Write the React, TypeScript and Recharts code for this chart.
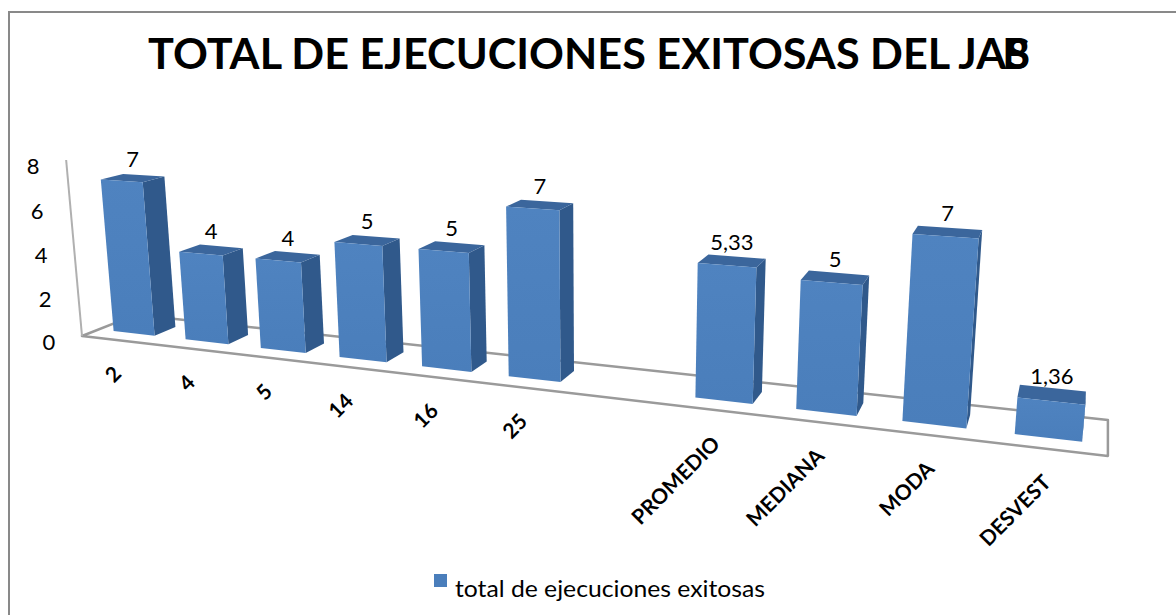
import React from 'react';
import { BarChart, Bar, XAxis, YAxis } from 'recharts';

const categories = ['2', '4', '5', '14', '16', '25', '', 'PROMEDIO', 'MEDIANA', 'MODA', 'DESVEST'];
const totals = [7, 4, 4, 5, 5, 7, null, 5.33, 5, 7, 1.36];
const yTicks = [0, 2, 4, 6, 8];
const seriesName = 'total de ejecuciones exitosas';
const titleText = 'TOTAL DE EJECUCIONES EXITOSAS DEL JAS';

const data = categories.map((name, i) => ({ name, total: totals[i] }));

const W = 1176;
const H = 615;
const M = { top: 50, right: 100, bottom: 50, left: 100 };
const AX = 1; // size given to the (invisible) axes
const PLOT_L = M.left + AX;
const PLOT_W = W - M.left - M.right - AX;
const PLOT_H = H - M.top - M.bottom - AX;
const Y_MAX = 8;

const FONT = "Lato, 'Open Sans', sans-serif";
const FRONT = '#4a7ebb';
const SIDE = '#30598b';
const TOP = '#3b669c';
const GRID = '#9a9a9a';

// perspective: front-left floor corner + vanishing points of the
// category axis, the value axis and the depth axis
const O = [82, 336];
const VX = [-3100, -36];
const VY = [599, 6075];
const VZ = [1108, -67];
const KX = -0.2438;
const KY = -0.00372;
const KZ = 0.0558;

const proj = (u: number, v: number, d: number) => {
  const w = 1 + KX * u + KY * v + KZ * d;
  return [
    (O[0] + KX * u * VX[0] + KY * v * VY[0] + KZ * d * VZ[0]) / w,
    (O[1] + KX * u * VX[1] + KY * v * VY[1] + KZ * d * VZ[1]) / w,
  ];
};

const pts = (arr: number[][]) => arr.map((p) => p[0].toFixed(1) + ',' + p[1].toFixed(1)).join(' ');
const fmt = (v: number) => String(v).replace('.', ',');

// bars sit in the middle of the floor depth
const D0 = 0.3;
const D1 = 0.7;

const Bar3D = (props: any) => {
  const { x, width, height, payload } = props;
  const value = payload ? payload.total : props.value;
  if (value == null || !height) return null;
  const uL = (x - PLOT_L) / PLOT_W;
  const uR = (x + width - PLOT_L) / PLOT_W;
  const v = (Y_MAX * height) / PLOT_H;
  const front = [proj(uL, 0, D0), proj(uR, 0, D0), proj(uR, v, D0), proj(uL, v, D0)];
  const top = [proj(uL, v, D0), proj(uR, v, D0), proj(uR, v, D1), proj(uL, v, D1)];
  const side = [proj(uR, 0, D0), proj(uR, 0, D1), proj(uR, v, D1), proj(uR, v, D0)];
  const lab = proj((uL + uR) / 2, v, 0.5);
  return (
    <g>
      <polygon points={pts(side)} fill={SIDE} />
      <polygon points={pts(top)} fill={TOP} />
      <polygon points={pts(front)} fill="url(#frontGrad)" />
      <text x={lab[0]} y={lab[1] - 11} textAnchor="middle" fontFamily={FONT} fontSize={22} fill="#000">
        {fmt(value)}
      </text>
    </g>
  );
};

const renderXTick = (props: any) => {
  const { x, payload } = props;
  if (!payload || !payload.value) return <g />;
  const u = (x - PLOT_L) / PLOT_W;
  const p = proj(u, 0, 0);
  const tx = p[0] + 5;
  const ty = p[1] + 35;
  return (
    <text x={tx} y={ty} transform={`rotate(-45 ${tx} ${ty})`} textAnchor="end" fontFamily={FONT} fontSize={21} fontWeight={700} fill="#000">
      {payload.value}
    </text>
  );
};

const renderYTick = (props: any) => {
  const { y, payload } = props;
  const v = (Y_MAX * (M.top + PLOT_H - y)) / PLOT_H;
  const p = proj(0, v, 0);
  return (
    <text x={p[0] - 33} y={p[1] + 14} textAnchor="middle" fontFamily={FONT} fontSize={22} fill="#000">
      {payload.value}
    </text>
  );
};

const Backdrop = () => {
  const floor = [proj(0, 0, 0), proj(1, 0, 0), proj(1, 0, 1), proj(0, 0, 1)];
  const a0 = proj(0, 0, 0);
  const a1 = proj(0, Y_MAX, 0);
  return (
    <svg width={W} height={H} style={{ position: 'absolute', left: 0, top: 0 }}>
      <defs>
        <linearGradient id="frontGrad" x1="0" y1="0" x2="0" y2="1">
          <stop offset="0%" stopColor="#4f83c0" />
          <stop offset="100%" stopColor={FRONT} />
        </linearGradient>
      </defs>
      <rect x={9} y={12} width={1400} height={1000} fill="#fff" stroke="#898989" strokeWidth={2} />
      <text x={148} y={69} textLength={882} lengthAdjust="spacingAndGlyphs" fontFamily={FONT} fontSize={42} fontWeight={700} fill="#000">
        {titleText}
      </text>
      <text x={1030} y={69} textAnchor="end" fontFamily={FONT} fontSize={42} fontWeight={700} fill="#000">
        B
      </text>
      <polygon points={pts(floor)} fill="none" stroke={GRID} strokeWidth={2.5} strokeLinejoin="round" />
      <line x1={a0[0]} y1={a0[1]} x2={a1[0]} y2={a1[1]} stroke="#b0b0b0" strokeWidth={2} />
      <rect x={434} y={574} width={13} height={13} fill={FRONT} />
      <text x={455} y={597} textLength={310} lengthAdjust="spacingAndGlyphs" fontFamily={FONT} fontSize={22.5} fill="#000">
        {seriesName}
      </text>
    </svg>
  );
};

export default function App() {
  return (
    <div style={{ position: 'fixed', left: 0, top: 0, width: W, height: H, background: '#fff', overflow: 'hidden' }}>
      <Backdrop />
      <div style={{ position: 'absolute', left: 0, top: 0 }}>
        <BarChart width={W} height={H} data={data} margin={M} barCategoryGap="21%">
          <XAxis dataKey="name" height={AX} interval={0} axisLine={false} tickLine={false} tick={renderXTick} />
          <YAxis type="number" domain={[0, Y_MAX]} ticks={yTicks} width={AX} axisLine={false} tickLine={false} tick={renderYTick} />
          <Bar dataKey="total" name={seriesName} shape={<Bar3D />} isAnimationActive={false} />
        </BarChart>
      </div>
    </div>
  );
}
